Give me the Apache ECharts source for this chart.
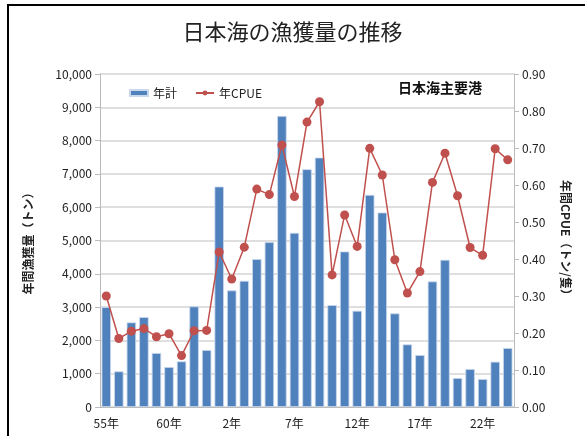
<!DOCTYPE html>
<html>
<head>
<meta charset="utf-8">
<script src="https://cdn.jsdelivr.net/npm/echarts@6/dist/echarts.min.js"></script>
<style>
  html, body { margin: 0; padding: 0; background: #fff; }
  #main { width: 585px; height: 436px; }
</style>
</head>
<body>
<div id="main"></div>
<script>
// 年（昭和55年〜平成24年）
var years = ["55年", "56年", "57年", "58年", "59年", "60年", "61年", "62年", "63年",
  "元年", "2年", "3年", "4年", "5年", "6年", "7年", "8年", "9年", "10年", "11年",
  "12年", "13年", "14年", "15年", "16年", "17年", "18年", "19年", "20年", "21年",
  "22年", "23年", "24年"];

// 年計（トン）
var catchTotal = [3000, 1070, 2540, 2700, 1620, 1200, 1370, 3020, 1710,
  6620, 3500, 3790, 4440, 4950, 8740, 5230, 7140, 7490, 3060, 4670,
  2890, 6370, 5840, 2810, 1880, 1560, 3770, 4420, 870, 1140,
  840, 1360, 1770];

// 年CPUE（トン/隻）
var cpue = [0.30, 0.185, 0.205, 0.212, 0.19, 0.198, 0.139, 0.206, 0.207,
  0.419, 0.346, 0.432, 0.589, 0.574, 0.708, 0.569, 0.770, 0.825, 0.357, 0.519,
  0.434, 0.699, 0.627, 0.398, 0.308, 0.366, 0.607, 0.686, 0.571, 0.431,
  0.410, 0.698, 0.668];

var myChart = echarts.init(document.getElementById("main"));

var font = '"Noto Sans CJK JP", "Noto Sans", sans-serif';

var option = {
  backgroundColor: "#fff",
  textStyle: { fontFamily: font },
  title: {
    text: "日本海の漁獲量の推移",
    left: "center",
    top: 16,
    textStyle: { fontSize: 22, fontWeight: "normal", color: "#222", fontFamily: font }
  },
  graphic: [
    {
      type: "rect",
      shape: { x: 8, y: 5, width: 620, height: 480 },
      style: { fill: "none", stroke: "#000", lineWidth: 2 },
      silent: true
    },
    {
      type: "text",
      left: 398,
      top: 81,
      style: { text: "日本海主要港", font: "bold 14px " + font, fill: "#111" }
    }
  ],
  legend: {
    left: 124,
    top: 82,
    itemGap: 18,
    itemWidth: 18,
    itemHeight: 6,
    textStyle: { fontSize: 12, color: "#222", fontFamily: font },
    data: [{ name: "年計", icon: "rect" }, { name: "年CPUE" }]
  },
  grid: { left: 100, right: 71, top: 74, bottom: 29 },
  xAxis: {
    type: "category",
    data: years,
    axisLine: { lineStyle: { color: "#bbb" } },
    axisTick: { interval: 0, lineStyle: { color: "#bbb" } },
    axisLabel: { interval: 4, color: "#222", fontSize: 12, margin: 10 }
  },
  yAxis: [
    {
      type: "value",
      name: "年間漁獲量（トン）",
      nameLocation: "middle",
      nameGap: 66,
      nameTextStyle: { fontSize: 12, color: "#222", fontWeight: "bold" },
      min: 0,
      max: 10000,
      interval: 1000,
      axisLine: { show: true, lineStyle: { color: "#bbb" } },
      axisTick: { show: true, lineStyle: { color: "#bbb" } },
      axisLabel: {
        color: "#222",
        fontSize: 12,
        formatter: function (v) { return v.toLocaleString("en-US"); }
      },
      splitLine: { lineStyle: { color: "#d4d4d4", width: 1.5 } }
    },
    {
      type: "value",
      name: "年間CPUE（トン/隻）",
      nameLocation: "middle",
      nameGap: 46,
      nameRotate: -90,
      nameTextStyle: { fontSize: 12, color: "#222", fontWeight: "bold" },
      min: 0,
      max: 0.9,
      interval: 0.1,
      axisLine: { show: true, lineStyle: { color: "#bbb" } },
      axisTick: { show: true, lineStyle: { color: "#bbb" } },
      axisLabel: {
        color: "#222",
        fontSize: 12,
        formatter: function (v) { return v.toFixed(2); }
      },
      splitLine: { show: false }
    }
  ],
  series: [
    {
      name: "年計",
      type: "bar",
      data: catchTotal,
      barCategoryGap: "25%",
      itemStyle: { color: "#4F81BD", borderColor: "#c9d8ec", borderWidth: 0.8 }
    },
    {
      name: "年CPUE",
      type: "line",
      yAxisIndex: 1,
      data: cpue,
      symbol: "circle",
      symbolSize: 9,
      showAllSymbol: true,
      lineStyle: { color: "#C0504D", width: 1.5 },
      itemStyle: { color: "#C0504D" }
    }
  ]
};

myChart.setOption(option);
</script>
</body>
</html>
